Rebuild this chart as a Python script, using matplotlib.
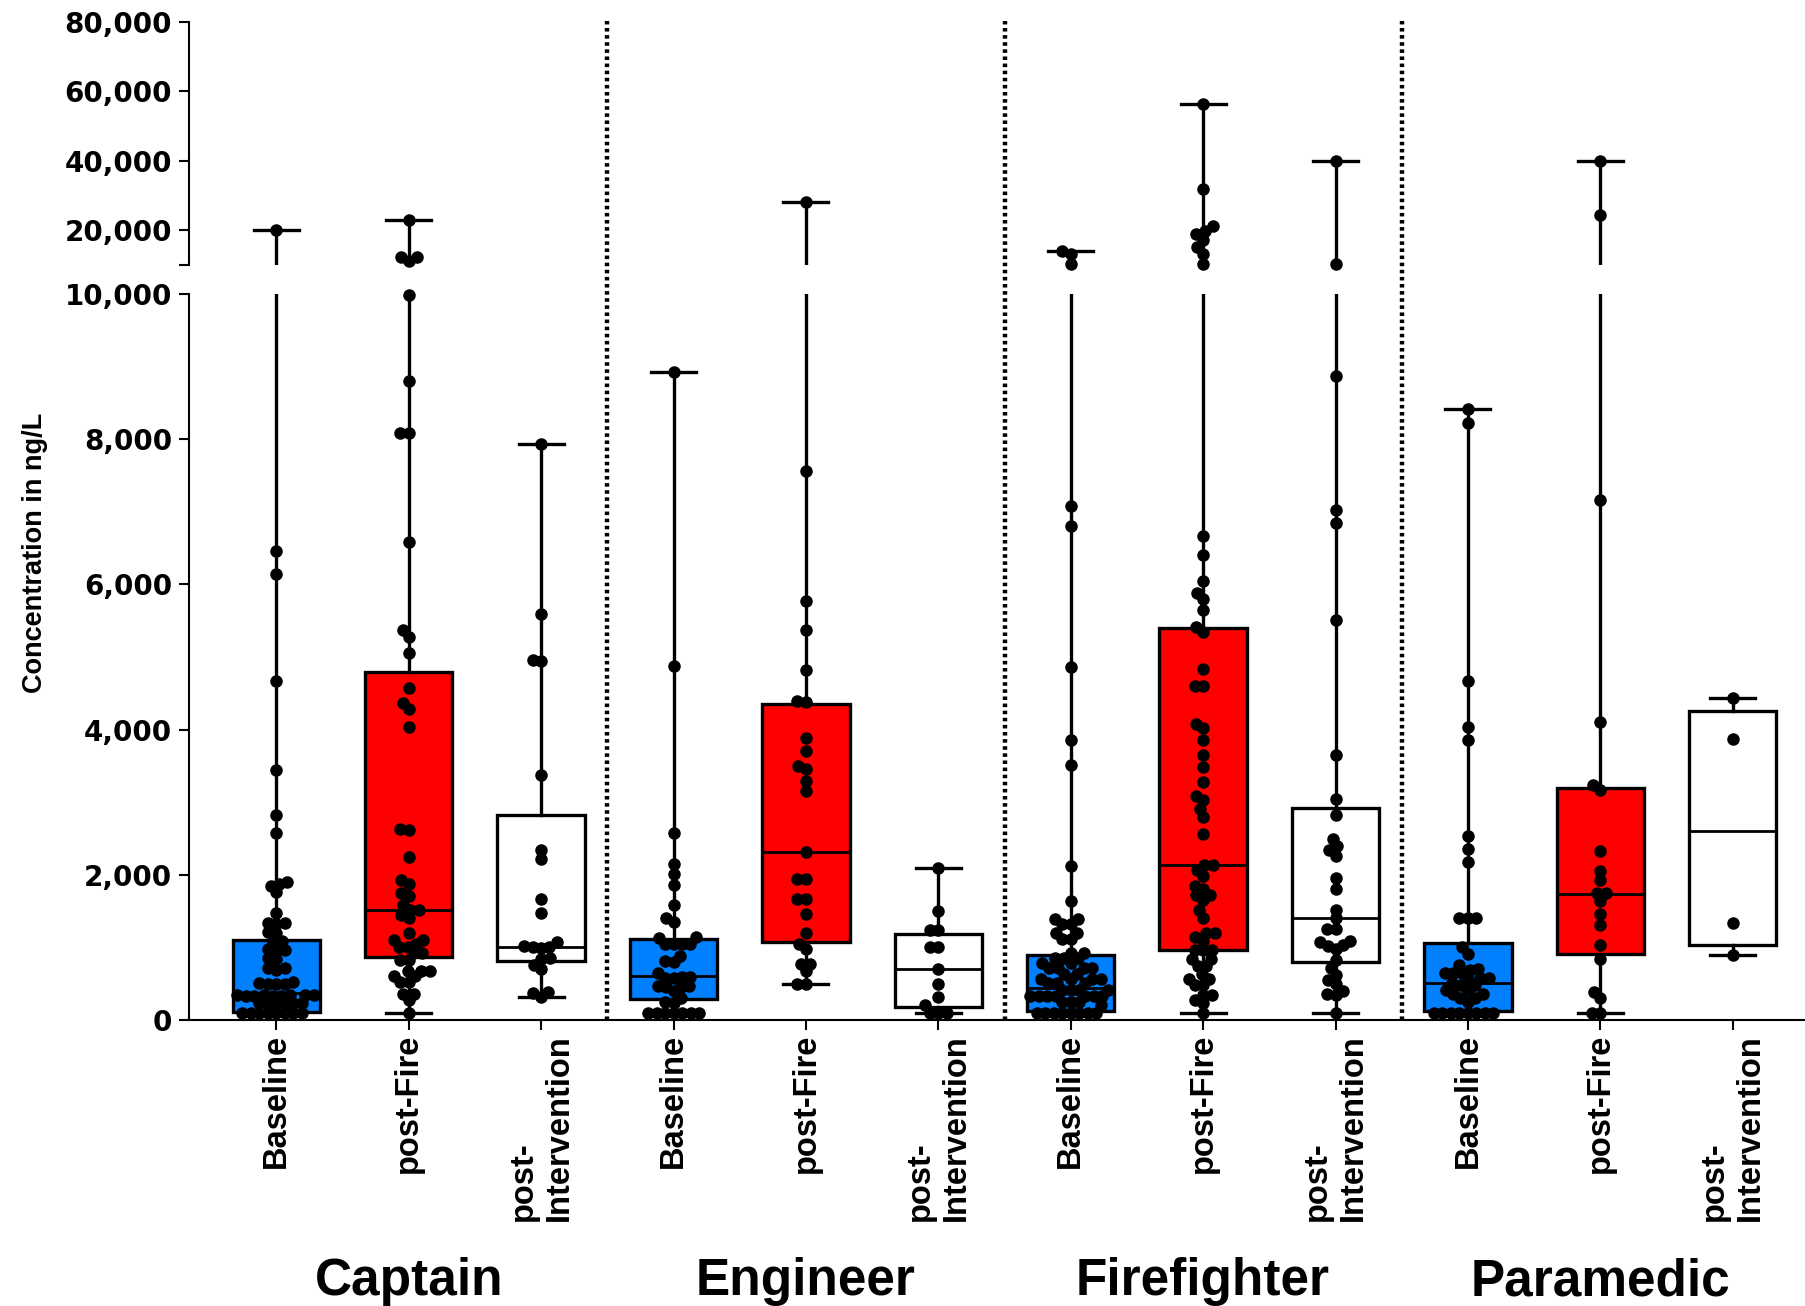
import numpy as np
import matplotlib
matplotlib.use("Agg")
import matplotlib.pyplot as plt
from matplotlib.transforms import blended_transform_factory

W, H = 1805, 1306

# ---- data ----
roles = ["Captain", "Engineer", "Firefighter", "Paramedic"]
phases = ["Baseline", "post-Fire", "post-\nIntervention"]
phase_colors = ["#0080ff", "#ff0000", "#ffffff"]

# box statistics, order: role x phase
q1 = [114, 870, 817, 290, 1073, 182, 121, 970, 797, 128, 909, 1029]
med = [376, 1515, 1010, 606, 2315, 697, 443, 2134, 1402, 505, 1736, 2603]
q3 = [1100, 4790, 2830, 1120, 4350, 1190, 890, 5400, 2920, 1065, 3190, 4260]
whis_lo = [100, 100, 321, 100, 500, 100, 100, 100, 100, 100, 100, 891]
whis_hi = [20000, 23000, 7940, 8930, 28200, 2100, 14150, 56500, 40000, 8410, 40000, 4430]

captain_base = [20000, 6460, 6150, 4670, 3440, 2830, 2570, 1900, 1870, 1850, 1760, 1470,
                1340, 1330, 1320, 1210, 1200, 1090, 1070, 980, 970, 960, 860, 840, 720,
                710, 690, 520, 510, 500, 500, 490, 350, 350, 345, 340, 340, 335, 330, 330,
                325, 240, 235, 230, 230, 225, 220, 100, 100, 100, 100, 100, 100, 100, 100]
captain_fire = [23000, 12300, 12300, 11050, 9980, 8800, 8090, 8090, 6580, 5370, 5280, 5060,
                4570, 4370, 4280, 4040, 2630, 2620, 2240, 1930, 1880, 1750, 1710, 1580, 1515,
                1515, 1440, 1400, 1200, 1100, 1100, 1040, 1010, 1010, 920, 920, 830, 820,
                680, 680, 670, 610, 600, 530, 520, 360, 355, 270, 100]
captain_int = [7940, 5590, 4960, 4950, 3370, 2340, 2220, 1670, 1480, 1070, 1020, 1010, 1000,
               990, 850, 840, 760, 700, 380, 370, 320]
engineer_base = [8930, 4870, 2580, 2150, 2010, 1860, 1590, 1410, 1350, 1140, 1130, 1050, 1050,
                 1045, 1040, 880, 810, 800, 650, 590, 590, 585, 580, 470, 465, 460, 460, 405,
                 300, 245, 240, 100, 100, 100, 100, 100, 100, 100]
engineer_fire = [28200, 7560, 5770, 5370, 4820, 4390, 4380, 3880, 3700, 3500, 3460, 3290, 3160,
                 2320, 1940, 1940, 1670, 1670, 1460, 1200, 1050, 980, 770, 770, 670, 500, 500]
engineer_int = [2100, 1500, 1240, 1240, 1010, 1010, 700, 490, 320, 200, 100, 100, 100]
ff_base = [14150, 13300, 10400, 7080, 6810, 4860, 3860, 3510, 2120, 1640, 1390, 1390, 1320,
           1320, 1200, 1200, 1120, 1120, 920, 920, 850, 850, 850, 780, 780, 710, 710, 710, 710,
           640, 640, 560, 560, 560, 560, 510, 510, 510, 420, 420, 420, 420, 330, 330, 330, 330,
           330, 330, 330, 250, 250, 250, 200, 100, 100, 100, 100, 100, 100, 100, 100]
ff_fire = [56500, 32000, 21150, 19800, 18850, 17300, 15200, 13300, 10300, 6660, 6400, 6050,
           5880, 5800, 5650, 5420, 5350, 4830, 4600, 4600, 4080, 4020, 3850, 3650, 3490, 3280,
           3090, 3030, 2910, 2800, 2560, 2140, 2130, 2070, 1990, 1850, 1810, 1720, 1720, 1650,
           1510, 1410, 1200, 1200, 1140, 1090, 970, 970, 970, 840, 840, 750, 740, 640, 570,
           570, 480, 480, 350, 350, 280, 230, 100]
ff_int = [40000, 10400, 8870, 7020, 6840, 5510, 3650, 3050, 2820, 2490, 2390, 2340, 2260, 1950,
          1810, 1520, 1400, 1250, 1250, 1090, 1080, 1030, 1020, 980, 820, 720, 620, 550, 490,
          400, 355, 350, 100]
medic_base = [8410, 8220, 4670, 4040, 3860, 2540, 2360, 2170, 1410, 1410, 1410, 1000, 910, 760,
              700, 690, 650, 650, 650, 575, 575, 570, 505, 480, 480, 420, 420, 360, 355, 300,
              300, 245, 100, 100, 100, 100, 100, 100, 100, 100]
medic_fire = [40000, 24300, 7160, 4100, 3240, 3170, 2330, 2050, 1930, 1750, 1750, 1640, 1460,
              1310, 1030, 840, 380, 300, 100, 100]
medic_int = [4430, 3870, 1340, 890]

groups = [captain_base, captain_fire, captain_int,
          engineer_base, engineer_fire, engineer_int,
          ff_base, ff_fire, ff_int,
          medic_base, medic_fire, medic_int]

BREAK = 10000
TOP = 80000


def swarm_offsets(ypix, d):
    """Simple beeswarm: place each point as close to centre as it can go."""
    out = np.zeros(len(ypix))
    placed = []
    for i in np.argsort(ypix, kind="stable"):
        y = ypix[i]
        cands = [0.0]
        blocked = []
        for yj, xj in placed:
            dy = abs(y - yj)
            if dy < d:
                dx = np.sqrt(d * d - dy * dy)
                blocked.append((xj - dx, xj + dx))
                cands += [xj - dx, xj + dx]
        cands.sort(key=lambda c: (round(abs(c), 6), c))
        for c in cands:
            if all(not (lo + 1e-6 < c < hi - 1e-6) for lo, hi in blocked):
                out[i] = c
                break
        placed.append((y, out[i]))
    return out


bold = dict(family=["Liberation Sans", "DejaVu Sans"], weight="bold")
wide_bold = dict(family=["DejaVu Sans"], weight="bold")

AX_LEFT = 189
fig = plt.figure(figsize=(W / 100, H / 100), dpi=100)
ax_lo = fig.add_axes([AX_LEFT / W, (H - 1020) / H, (W - AX_LEFT) / W, 726 / H])
ax_hi = fig.add_axes([AX_LEFT / W, (H - 265) / H, (W - AX_LEFT) / W, 243 / H], sharex=ax_lo)
ax_hi.patch.set_visible(False)

xpx_per_unit = 132.4
positions = np.arange(len(groups))
stats = [dict(med=m, q1=a, q3=b, whislo=lo, whishi=hi, fliers=[])
         for m, a, b, lo, hi in zip(med, q1, q3, whis_lo, whis_hi)]

for ax in (ax_lo, ax_hi):
    bp = ax.bxp(stats, positions=positions, widths=0.66, capwidths=0.34,
                patch_artist=True, showfliers=False, manage_ticks=False,
                boxprops=dict(linewidth=2.4, edgecolor="black"),
                whiskerprops=dict(linewidth=2.4, color="black"),
                capprops=dict(linewidth=2.4, color="black"),
                medianprops=dict(linewidth=2.0, color="black"))
    for i, patch in enumerate(bp["boxes"]):
        patch.set_facecolor(phase_colors[i % 3])

# points, swarmed separately in each segment
for i, vals in enumerate(groups):
    vals = np.asarray(vals, dtype=float)
    lo_vals = vals[vals <= BREAK]
    hi_vals = vals[vals > BREAK]
    if len(lo_vals):
        off = swarm_offsets(lo_vals * 726 / BREAK, 8.5) / xpx_per_unit
        ax_lo.plot(i + off, lo_vals, "o", color="black", markersize=8, zorder=5,
                   clip_on=False)
    if len(hi_vals):
        off = swarm_offsets((hi_vals - BREAK) * 243 / (TOP - BREAK), 9.0) / xpx_per_unit
        ax_hi.plot(i + off, hi_vals, "o", color="black", markersize=8, zorder=5,
                   clip_on=False)

xl = (AX_LEFT - 276.3) / xpx_per_unit
xr = (W - 276.3) / xpx_per_unit
ax_lo.set_xlim(xl, xr)
ax_lo.set_ylim(0, BREAK)
ax_hi.set_ylim(BREAK, TOP)

# dotted separators running through both segments
for xs in (2.5, 5.5, 8.5):
    ax_lo.axvline(xs, ymin=0, ymax=(1020 - 21) / 726, color="black", linewidth=3.2,
                  linestyle=(0, (0.8, 0.8)), clip_on=False, zorder=1)

for ax in (ax_lo, ax_hi):
    ax.spines["top"].set_visible(False)
    ax.spines["right"].set_visible(False)
    ax.spines["left"].set_linewidth(1.5)
    ax.tick_params(axis="y", direction="out", length=7.2, width=1.5, pad=5)
ax_hi.spines["bottom"].set_visible(False)
ax_lo.spines["bottom"].set_linewidth(1.5)

lo_ticks = [0, 2000, 4000, 6000, 8000, 10000]
hi_ticks = [10000, 20000, 40000, 60000, 80000]
ax_lo.set_yticks(lo_ticks)
ax_lo.set_yticklabels([f"{t:,}" for t in lo_ticks], fontsize=20, **wide_bold)
ax_hi.set_yticks(hi_ticks)
ax_hi.set_yticklabels([""] + [f"{t:,}" for t in hi_ticks[1:]], fontsize=20, **wide_bold)

ax_hi.tick_params(axis="x", bottom=False, labelbottom=False)
ax_lo.set_xticks(positions)
ax_lo.set_xticklabels([phases[i % 3] for i in positions], rotation=90, ha="center",
                      va="top", multialignment="left", fontsize=23.5, **bold)
ax_lo.tick_params(axis="x", direction="out", length=7, width=1.5, pad=3)

trans = blended_transform_factory(ax_lo.transData, fig.transFigure)
for k, role in enumerate(roles):
    ax_lo.text(3 * k + 1, (H - 1295) / H, role, transform=trans, ha="center",
               va="baseline", fontsize=37, **bold)

fig.text(35 / W, 1 - 553 / H, "Concentration in ng/L", rotation=90, ha="center",
         va="center", fontsize=19.5, **bold)

fig.savefig("out.png", dpi=100)
